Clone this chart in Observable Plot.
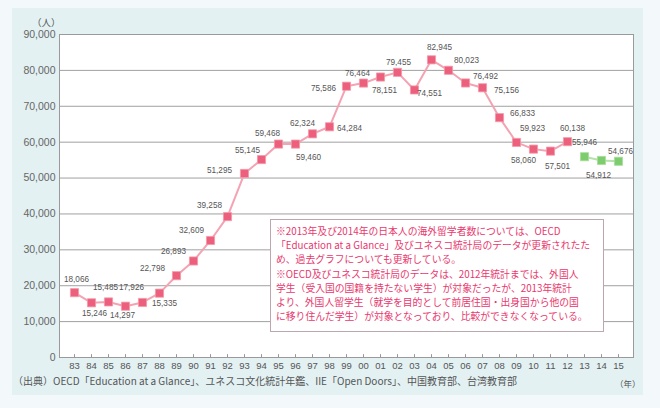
<!DOCTYPE html>
<html>
<head>
<meta charset="utf-8">
<script src="https://cdn.jsdelivr.net/npm/d3@7"></script>
<script src="https://cdn.jsdelivr.net/npm/@observablehq/plot@0.6"></script>
<style>
  html, body { margin: 0; padding: 0; background: #f3f9fa; }
  #wrap { position: relative; width: 660px; height: 408px; overflow: hidden; font-family: "Liberation Sans", Arial, sans-serif; }
  #panel { position: absolute; left: 12px; top: 8px; width: 631px; height: 387px; background: #e3f1f3; }
  #chart { position: absolute; left: 0; top: 0; }
  #unit { position: absolute; left: 32px; top: 15px; font-size: 9.5px; color: #555; font-family: "Noto Sans CJK JP", sans-serif; }
  #yearunit { position: absolute; left: 615px; top: 377px; font-size: 8.5px; color: #555; font-family: "Noto Sans CJK JP", sans-serif; }
  #note { position: absolute; left: 270px; top: 219px; width: 322px; height: 103px; padding: 4px 5px; background: #fff;
          border: 1px solid #bba7ae; color: #e8386e; font-size: 9.8px; line-height: 14.2px; white-space: nowrap;
          font-family: "Noto Sans CJK JP", sans-serif; overflow: hidden; }
  #footer { position: absolute; left: 13px; top: 373px; font-size: 10px; color: #555; white-space: nowrap;
            font-family: "Noto Sans CJK JP", sans-serif; }
</style>
</head>
<body>
<div id="wrap">
  <div id="panel"></div>
  <div id="chart"></div>
  <div id="unit">（人）</div>
  <div id="yearunit">（年）</div>
  <div id="note">
    ※2013年及び2014年の日本人の海外留学者数については、OECD<br>
    「Education at a Glance」及びユネスコ統計局のデータが更新されたた<br>
    め、過去グラフについても更新している。<br>
    ※OECD及びユネスコ統計局のデータは、2012年統計までは、外国人<br>
    学生（受入国の国籍を持たない学生）が対象だったが、2013年統計<br>
    より、外国人留学生（就学を目的として前居住国・出身国から他の国<br>
    に移り住んだ学生）が対象となっており、比較ができなくなっている。
  </div>
  <div id="footer">（出典）OECD「Education at a Glance」、ユネスコ文化統計年鑑、IIE「Open Doors」、中国教育部、台湾教育部</div>
</div>
<script>
// ---- data ----
const years = ["83","84","85","86","87","88","89","90","91","92","93","94","95","96","97","98","99",
               "00","01","02","03","04","05","06","07","08","09","10","11","12","13","14","15"];
const redValues = [18066, 15246, 15485, 14297, 15335, 17926, 22798, 26893, 32609, 39258, 51295, 55145,
                   59468, 59460, 62324, 64284, 75586, 76464, 78151, 79455, 74551, 82945, 80023, 76492,
                   75156, 66833, 59923, 58060, 57501, 60138];
const greenValues = [55946, 54912, 54676];
const yTicks = [0, 10000, 20000, 30000, 40000, 50000, 60000, 70000, 80000, 90000];

// label placement (styling only): offsets of each value label from its point
const labelOffsets = [
  [2,-13],[3,11],[-3,-15],[-3,9],[22,1],[-28,-6],[-24,-7],[-20,-10],[-19,-10],[-18,-11],
  [-25,-3],[-14,-9],[-11,-11],[13,13],[-10,-10],[20,2],[-23,2],[-6,-10],[4,13],[1,-10],
  [15,3],[8,-12],[18,-10],[20,-7],[24,3],[23,-4],[16,-14],[-10,11],[7,15],[5,-13],
  [0,-14],[-3,15],[2,-10]
];

const red = redValues.map((v, i) => ({year: years[i], value: v}));
const green = greenValues.map((v, i) => ({year: years[redValues.length + i], value: v}));
const all = red.concat(green);
const fmt = d3.format(",");

const labelMarks = all.map((d, i) => Plot.text([d], {
  x: "year", y: "value", text: (p) => fmt(p.value),
  dx: labelOffsets[i][0], dy: labelOffsets[i][1],
  fontSize: 8.2, fill: "#555", textAnchor: "middle"
}));

const chart = Plot.plot({
  width: 660, height: 372,
  marginLeft: 59, marginRight: 27, marginTop: 34, marginBottom: 15,
  style: {background: "transparent", fontFamily: "'Liberation Sans', Arial, sans-serif", overflow: "visible"},
  x: {type: "point", domain: years, padding: 0.64, label: null},
  y: {domain: [0, 90000], label: null},
  marks: [
    Plot.frame({fill: "white", stroke: "none"}),
    Plot.ruleY(yTicks, {stroke: "#a0a0a0", strokeWidth: 1}),
    Plot.frame({stroke: "#9a9a9a", fill: "none"}),
    Plot.ruleX(years, {x: (d) => d, y1: 0, y2: 800, stroke: "#999"}),
    Plot.axisY({ticks: yTicks, tickSize: 0, tickPadding: 4, tickFormat: fmt, fontSize: 10.5, fill: "#666"}),
    Plot.axisX({tickSize: 0, tickPadding: 5, fontSize: 9.5, fill: "#555"}),
    Plot.line(red, {x: "year", y: "value", stroke: "#f4a3b3", strokeWidth: 2}),
    Plot.line(green, {x: "year", y: "value", stroke: "#b6e2a9", strokeWidth: 2}),
    Plot.dot(red, {x: "year", y: "value", symbol: "square", r: 4.6, fill: "#ec5f7d", stroke: "#f49aaa", strokeWidth: 0.8}),
    Plot.dot(green, {x: "year", y: "value", symbol: "square", r: 4.6, fill: "#7dcc6e", stroke: "#a9dd9c", strokeWidth: 0.8}),
    ...labelMarks
  ]
});
document.getElementById("chart").appendChild(chart);
</script>
</body>
</html>
